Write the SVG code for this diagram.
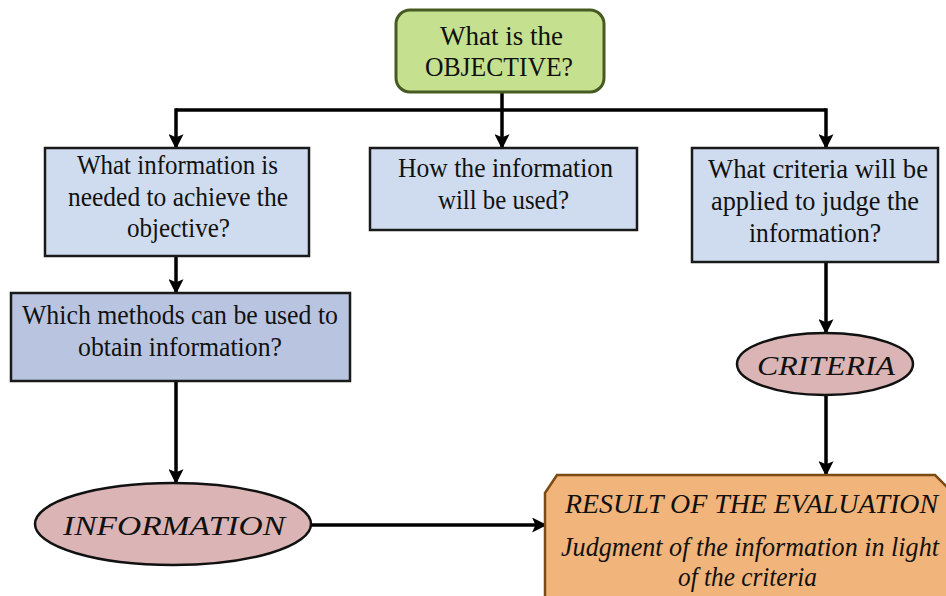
<svg xmlns="http://www.w3.org/2000/svg" width="946" height="596" viewBox="0 0 946 596">
<style>
text{font-family:"Liberation Serif","Times New Roman",serif;font-size:28px;fill:#111;text-anchor:middle}
.it{font-style:italic}
.box{stroke:#1a1a1a;stroke-width:2.5}
.q{fill:#cfdcef}
.m{fill:#b9c4e1}
.ell{fill:#dbb5b5;stroke:#111;stroke-width:2.5}
.conn{fill:none;stroke:#000;stroke-width:3.5}
</style>
<defs>
<marker id="ah" viewBox="0 0 14 14" refX="12" refY="7" markerWidth="15" markerHeight="15" markerUnits="userSpaceOnUse" orient="auto">
<path d="M0,0 L14,7 L0,14 L3,7 z" fill="#000"/>
</marker>
</defs>
<rect width="946" height="596" fill="#fff"/>
<g id="connectors">
<path class="conn" d="M502,92 V110"/>
<path class="conn" d="M176,110 H826"/>
<path class="conn" d="M176,108.25 V147" marker-end="url(#ah)"/>
<path class="conn" d="M502,110 V147" marker-end="url(#ah)"/>
<path class="conn" d="M826,108.25 V147" marker-end="url(#ah)"/>
<path class="conn" d="M176,256 V292" marker-end="url(#ah)"/>
<path class="conn" d="M176,381 V482" marker-end="url(#ah)"/>
<path class="conn" d="M826,262 V332" marker-end="url(#ah)"/>
<path class="conn" d="M826,395 V474" marker-end="url(#ah)"/>
<path class="conn" d="M311,525 H545" marker-end="url(#ah)"/>
</g>
<g id="objective">
<rect x="396" y="10" width="208" height="82" rx="14" fill="#c5e190" stroke="#465a22" stroke-width="3"/>
<text x="501.5" y="45" textLength="123" lengthAdjust="spacingAndGlyphs">What is the</text>
<text x="499" y="76" textLength="148" lengthAdjust="spacingAndGlyphs">OBJECTIVE?</text>
</g>
<g id="info-needed">
<rect class="box q" x="45" y="148" width="264" height="108"/>
<text x="177.5" y="174" textLength="201" lengthAdjust="spacingAndGlyphs">What information is</text>
<text x="178" y="206" textLength="220" lengthAdjust="spacingAndGlyphs">needed to achieve the</text>
<text x="178.5" y="237" textLength="103" lengthAdjust="spacingAndGlyphs">objective?</text>
</g>
<g id="info-use">
<rect class="box q" x="370" y="148" width="267" height="82"/>
<text x="505.5" y="177" textLength="215" lengthAdjust="spacingAndGlyphs">How the information</text>
<text x="503.5" y="209" textLength="131" lengthAdjust="spacingAndGlyphs">will be used?</text>
</g>
<g id="criteria-q">
<rect class="box q" x="692" y="148" width="246" height="114"/>
<text x="818" y="178" textLength="220" lengthAdjust="spacingAndGlyphs">What criteria will be</text>
<text x="815" y="210" textLength="208" lengthAdjust="spacingAndGlyphs">applied to judge the</text>
<text x="815" y="242" textLength="132" lengthAdjust="spacingAndGlyphs">information?</text>
</g>
<g id="methods">
<rect class="box m" x="11" y="293" width="339" height="88"/>
<text x="180" y="324" textLength="316" lengthAdjust="spacingAndGlyphs">Which methods can be used to</text>
<text x="180" y="356" textLength="204" lengthAdjust="spacingAndGlyphs">obtain information?</text>
</g>
<g id="information">
<ellipse class="ell" cx="173" cy="524" rx="138" ry="41"/>
<text class="it" x="174" y="535" textLength="222" lengthAdjust="spacingAndGlyphs">INFORMATION</text>
</g>
<g id="criteria">
<ellipse class="ell" cx="825" cy="364" rx="88" ry="31"/>
<text class="it" x="826" y="375" textLength="138" lengthAdjust="spacingAndGlyphs">CRITERIA</text>
</g>
<g id="result">
<path d="M545,493 L557,475 L935,475 L948,488 L948,600 L545,600 Z" fill="#f1b47a" stroke="#7b4b14" stroke-width="2.5"/>
<text class="it" x="751.5" y="513" textLength="373" lengthAdjust="spacingAndGlyphs">RESULT OF THE EVALUATION</text>
<text class="it" x="750" y="556" textLength="378" lengthAdjust="spacingAndGlyphs">Judgment of the information in light</text>
<text class="it" x="747.5" y="586" textLength="139" lengthAdjust="spacingAndGlyphs">of the criteria</text>
</g>
</svg>
